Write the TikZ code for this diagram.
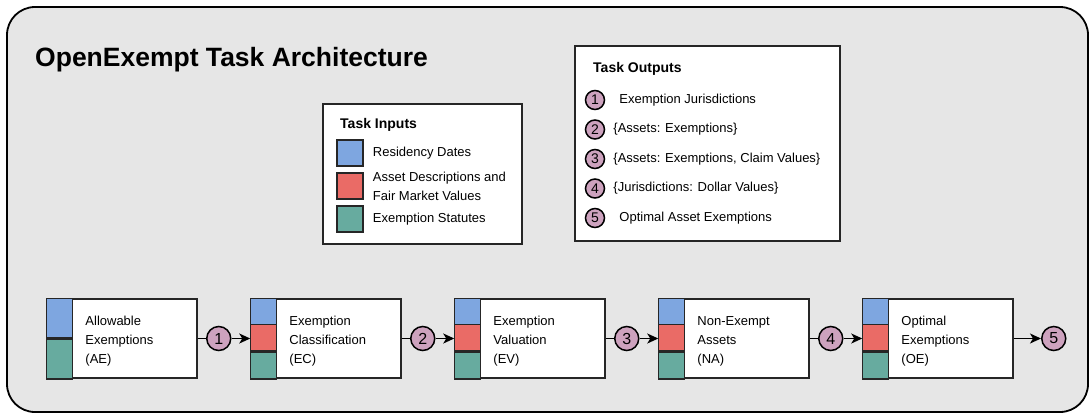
\documentclass[tikz,border=0pt]{standalone}
\usepackage{fontspec}
\setmainfont{Liberation Sans}
\usetikzlibrary{arrows.meta,positioning}

\definecolor{panelgray}{HTML}{E6E6E6}
\definecolor{inblue}{HTML}{7EA6E0}
\definecolor{inred}{HTML}{EA6B66}
\definecolor{ingreen}{HTML}{67AB9F}
\definecolor{outpink}{HTML}{CDA2BE}

\begin{document}
\begin{tikzpicture}[x=1pt, y=-1pt,
    panel/.style={draw=black, line width=1.8pt, fill=panelgray, rounded corners=28pt},
    legendbox/.style={draw=black!85, line width=1.5pt, fill=white},
    stagebox/.style={draw=black!85, line width=1.5pt, fill=white,
      minimum width=150pt, minimum height=79pt, inner sep=0pt},
    strip/.style={draw=black!85, line width=1.5pt},
    swatch/.style={draw=black!85, line width=1.5pt, minimum size=26pt, inner sep=0pt},
    outnum/.style={circle, draw=black, line width=1.5pt, fill=outpink, inner sep=0pt},
    bodytext/.style={font=\fontsize{13}{19}\selectfont, inner sep=0pt, align=left},
    headtext/.style={font=\bfseries\fontsize{14}{14}\selectfont, inner sep=0pt, anchor=base west},
    link/.style={draw=black, line width=1.5pt},
    flow/.style={link, -{Stealth[length=11pt, width=10pt, inset=3pt]}}]
  \useasboundingbox (0,0) rectangle (1091,416);
  \path[panel] (7,7) rectangle (1088,412);
  \node[font=\bfseries\fontsize{26.5}{26.5}\selectfont, inner sep=0pt, anchor=base west] (title)
    at (35,66) {OpenExempt Task Architecture};

  % inputs legend: one swatch per input kind
  \draw[legendbox] (323,104) rectangle (522,244);
  \node[headtext] (inhead) at (340,128) {Task Inputs};
  \node[swatch, fill=inblue]  (sw1) at (350,153) {};
  \node[swatch, fill=inred]   (sw2) at (350,186) {};
  \node[swatch, fill=ingreen] (sw3) at (350,219) {};
  \node[bodytext, right=9pt of sw1] (sw1-txt) {Residency Dates};
  \node[bodytext, right=9pt of sw2] (sw2-txt) {Asset Descriptions and\\Fair Market Values};
  \node[bodytext, right=9pt of sw3] (sw3-txt) {Exemption Statutes};

  % outputs legend: numbered markers reused on the pipeline below
  \draw[legendbox] (575,46) rectangle (840,241);
  \node[headtext] (outhead) at (593,72) {Task Outputs};
  \foreach \k/\cy/\gap/\txt in {1/100/14/{Exemption Jurisdictions},
      2/129.5/8/{\{Assets: Exemptions\}},
      3/159/8/{\{Assets: Exemptions, Claim Values\}},
      4/188.5/8/{\{Jurisdictions: Dollar Values\}},
      5/218/14/{Optimal Asset Exemptions}} {
    \node[outnum, minimum size=19pt, font=\fontsize{14}{14}\selectfont] (key\k) at (595,\cy) {\k};
    \node[bodytext, right=\gap pt of key\k] (key\k-txt) {\txt};
  }

  % pipeline stages; the first one takes no asset input
  \node[stagebox] (ae) at (122,338.5) {};
  \filldraw[strip, fill=inblue]  (ae.north west) rectangle ++(26,39.5);
  \filldraw[strip, fill=ingreen] (ae.south west) rectangle ++(26,-39.5);
  \node[bodytext, anchor=west] (ae-txt) at ([xshift=39pt, yshift=-2.5pt]ae.west)
    {Allowable\\Exemptions\\(AE)};
  \foreach \nm/\cx/\lbl in {ec/326/{Exemption\\Classification\\(EC)},
      ev/530/{Exemption\\Valuation\\(EV)},
      na/734/{Non-Exempt\\Assets\\(NA)},
      oe/938/{Optimal\\Exemptions\\(OE)}} {
    \node[stagebox] (\nm) at (\cx,338.5) {};
    \filldraw[strip, fill=inblue]  (\nm.north west) rectangle ++(26,26.33);
    \filldraw[strip, fill=inred]   ([yshift=-26.33pt]\nm.north west) rectangle ++(26,26.33);
    \filldraw[strip, fill=ingreen] (\nm.south west) rectangle ++(26,-26.33);
    \node[bodytext, anchor=west] (\nm-txt) at ([xshift=39pt, yshift=-2.5pt]\nm.west) {\lbl};
  }

  % outputs handed from stage to stage
  \foreach \src/\dst/\k in {ae/ec/1, ec/ev/2, ev/na/3, na/oe/4} {
    \node[outnum, minimum size=24pt, font=\fontsize{16}{16}\selectfont] (n\k)
      at ([xshift=21pt]\src.east) {\k};
    \draw[link] (\src) -- (n\k);
    \draw[flow] (n\k) -- (\dst);
  }
  \node[outnum, minimum size=24pt, font=\fontsize{16}{16}\selectfont] (n5)
    at ([xshift=40pt]oe.east) {5};
  \draw[flow] (oe) -- (n5);
\end{tikzpicture}
\end{document}
